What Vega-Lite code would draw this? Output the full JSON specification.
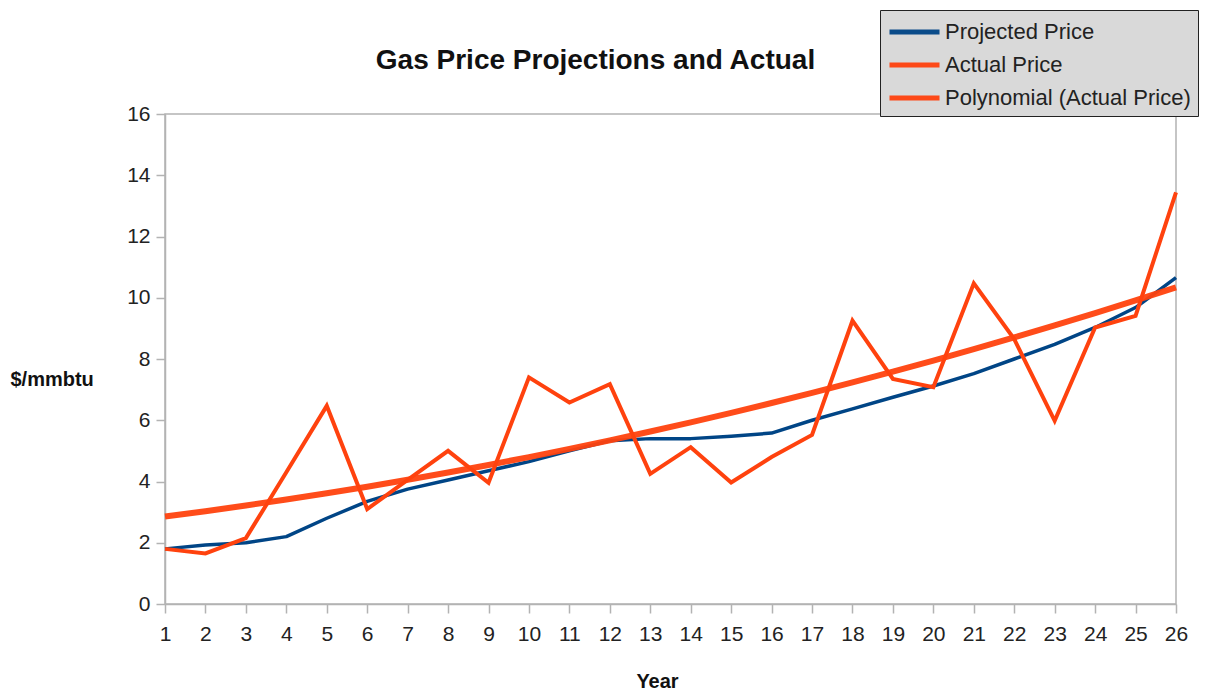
{
  "$schema": "https://vega.github.io/schema/vega-lite/v6.json",
  "width": 1011,
  "height": 490,
  "autosize": {"type": "none"},
  "padding": {"left": 165, "top": 114, "right": 31, "bottom": 92},
  "background": "white",
  "config": {
    "font": "Liberation Sans",
    "view": {"stroke": "#b3b3b3", "strokeWidth": 1.5},
    "axis": {"grid": false, "domainColor": "#b3b3b3", "tickColor": "#b3b3b3", "domainWidth": 1.5, "tickWidth": 1.5, "labelColor": "#222222", "labelFont": "Liberation Sans", "labelFontSize": 21, "titleFont": "Liberation Sans", "titleFontSize": 20, "titleFontWeight": "bold", "titleColor": "#111111"}
  },
  "title": {"text": "Gas Price Projections and Actual", "font": "Liberation Sans", "fontSize": 28, "fontWeight": "bold", "color": "#111111", "anchor": "middle", "frame": "group", "baseline": "alphabetic", "offset": 42, "dx": -75, "dy": 129},
  "data": {"values": [
    {"year": 1, "series": "Projected Price", "price": 1.8},
    {"year": 2, "series": "Projected Price", "price": 1.93},
    {"year": 3, "series": "Projected Price", "price": 2.0},
    {"year": 4, "series": "Projected Price", "price": 2.2},
    {"year": 5, "series": "Projected Price", "price": 2.8},
    {"year": 6, "series": "Projected Price", "price": 3.35},
    {"year": 7, "series": "Projected Price", "price": 3.75},
    {"year": 8, "series": "Projected Price", "price": 4.05},
    {"year": 9, "series": "Projected Price", "price": 4.35},
    {"year": 10, "series": "Projected Price", "price": 4.65},
    {"year": 11, "series": "Projected Price", "price": 5.0},
    {"year": 12, "series": "Projected Price", "price": 5.33},
    {"year": 13, "series": "Projected Price", "price": 5.4},
    {"year": 14, "series": "Projected Price", "price": 5.4},
    {"year": 15, "series": "Projected Price", "price": 5.48},
    {"year": 16, "series": "Projected Price", "price": 5.58},
    {"year": 17, "series": "Projected Price", "price": 6.0},
    {"year": 18, "series": "Projected Price", "price": 6.37},
    {"year": 19, "series": "Projected Price", "price": 6.75},
    {"year": 20, "series": "Projected Price", "price": 7.12},
    {"year": 21, "series": "Projected Price", "price": 7.52},
    {"year": 22, "series": "Projected Price", "price": 8.0},
    {"year": 23, "series": "Projected Price", "price": 8.48},
    {"year": 24, "series": "Projected Price", "price": 9.03},
    {"year": 25, "series": "Projected Price", "price": 9.68},
    {"year": 26, "series": "Projected Price", "price": 10.66},
    {"year": 1, "series": "Actual Price", "price": 1.8},
    {"year": 2, "series": "Actual Price", "price": 1.65},
    {"year": 3, "series": "Actual Price", "price": 2.15},
    {"year": 4, "series": "Actual Price", "price": 4.3},
    {"year": 5, "series": "Actual Price", "price": 6.47},
    {"year": 6, "series": "Actual Price", "price": 3.1},
    {"year": 7, "series": "Actual Price", "price": 4.05},
    {"year": 8, "series": "Actual Price", "price": 5.0},
    {"year": 9, "series": "Actual Price", "price": 3.96},
    {"year": 10, "series": "Actual Price", "price": 7.4},
    {"year": 11, "series": "Actual Price", "price": 6.58},
    {"year": 12, "series": "Actual Price", "price": 7.18},
    {"year": 13, "series": "Actual Price", "price": 4.25},
    {"year": 14, "series": "Actual Price", "price": 5.12},
    {"year": 15, "series": "Actual Price", "price": 3.97},
    {"year": 16, "series": "Actual Price", "price": 4.8},
    {"year": 17, "series": "Actual Price", "price": 5.52},
    {"year": 18, "series": "Actual Price", "price": 9.25},
    {"year": 19, "series": "Actual Price", "price": 7.35},
    {"year": 20, "series": "Actual Price", "price": 7.08},
    {"year": 21, "series": "Actual Price", "price": 10.47},
    {"year": 22, "series": "Actual Price", "price": 8.65},
    {"year": 23, "series": "Actual Price", "price": 5.98},
    {"year": 24, "series": "Actual Price", "price": 9.03},
    {"year": 25, "series": "Actual Price", "price": 9.41},
    {"year": 26, "series": "Actual Price", "price": 13.44}
  ]},
  "encoding": {
    "x": {"field": "year", "type": "quantitative", "scale": {"domain": [1, 26], "nice": false, "zero": false},
      "axis": {"values": [1,2,3,4,5,6,7,8,9,10,11,12,13,14,15,16,17,18,19,20,21,22,23,24,25,26], "format": "d", "tickSize": 9, "labelPadding": 10, "labelFlush": false, "labelOverlap": false, "title": "Year", "titleX": 492, "titleY": 83, "titleBaseline": "alphabetic", "titleAnchor": null, "titleAlign": "center"}},
    "y": {"field": "price", "type": "quantitative", "scale": {"domain": [0, 16], "nice": false},
      "axis": {"values": [0,2,4,6,8,10,12,14,16], "tickSize": 9, "labelPadding": 6, "title": "$/mmbtu", "titleAngle": 0, "titleX": -155, "titleY": 271, "titleAlign": "left", "titleBaseline": "alphabetic", "titleAnchor": null}},
    "color": {"field": "series", "type": "nominal",
      "scale": {"domain": ["Projected Price", "Actual Price", "Polynomial (Actual Price)"], "range": ["#004586", "#ff420e", "#ff420e"]},
      "legend": {"title": null, "orient": "none", "legendX": 715, "legendY": -104, "fillColor": "#d9d9d9", "strokeColor": "#222222", "padding": 7, "symbolType": "M-1,0H3", "symbolSize": 625, "symbolStrokeWidth": 5, "labelOffset": 28, "rowPadding": 7, "labelFont": "Liberation Sans", "labelFontSize": 22, "labelColor": "#222222", "labelLimit": 400}}
  },
  "layer": [
    {"transform": [{"filter": "datum.series === 'Projected Price'"}],
     "mark": {"type": "line", "strokeWidth": 3.5, "strokeJoin": "round"}},
    {"transform": [{"filter": "datum.series === 'Actual Price'"}],
     "mark": {"type": "line", "strokeWidth": 4, "strokeJoin": "miter"}},
    {"transform": [{"filter": "datum.series === 'Actual Price'"}, {"regression": "price", "on": "year", "method": "poly", "order": 2, "extent": [1, 26]}],
     "mark": {"type": "line", "strokeWidth": 6, "opacity": 0.95},
     "encoding": {"color": {"datum": "Polynomial (Actual Price)"}}}
  ]
}
